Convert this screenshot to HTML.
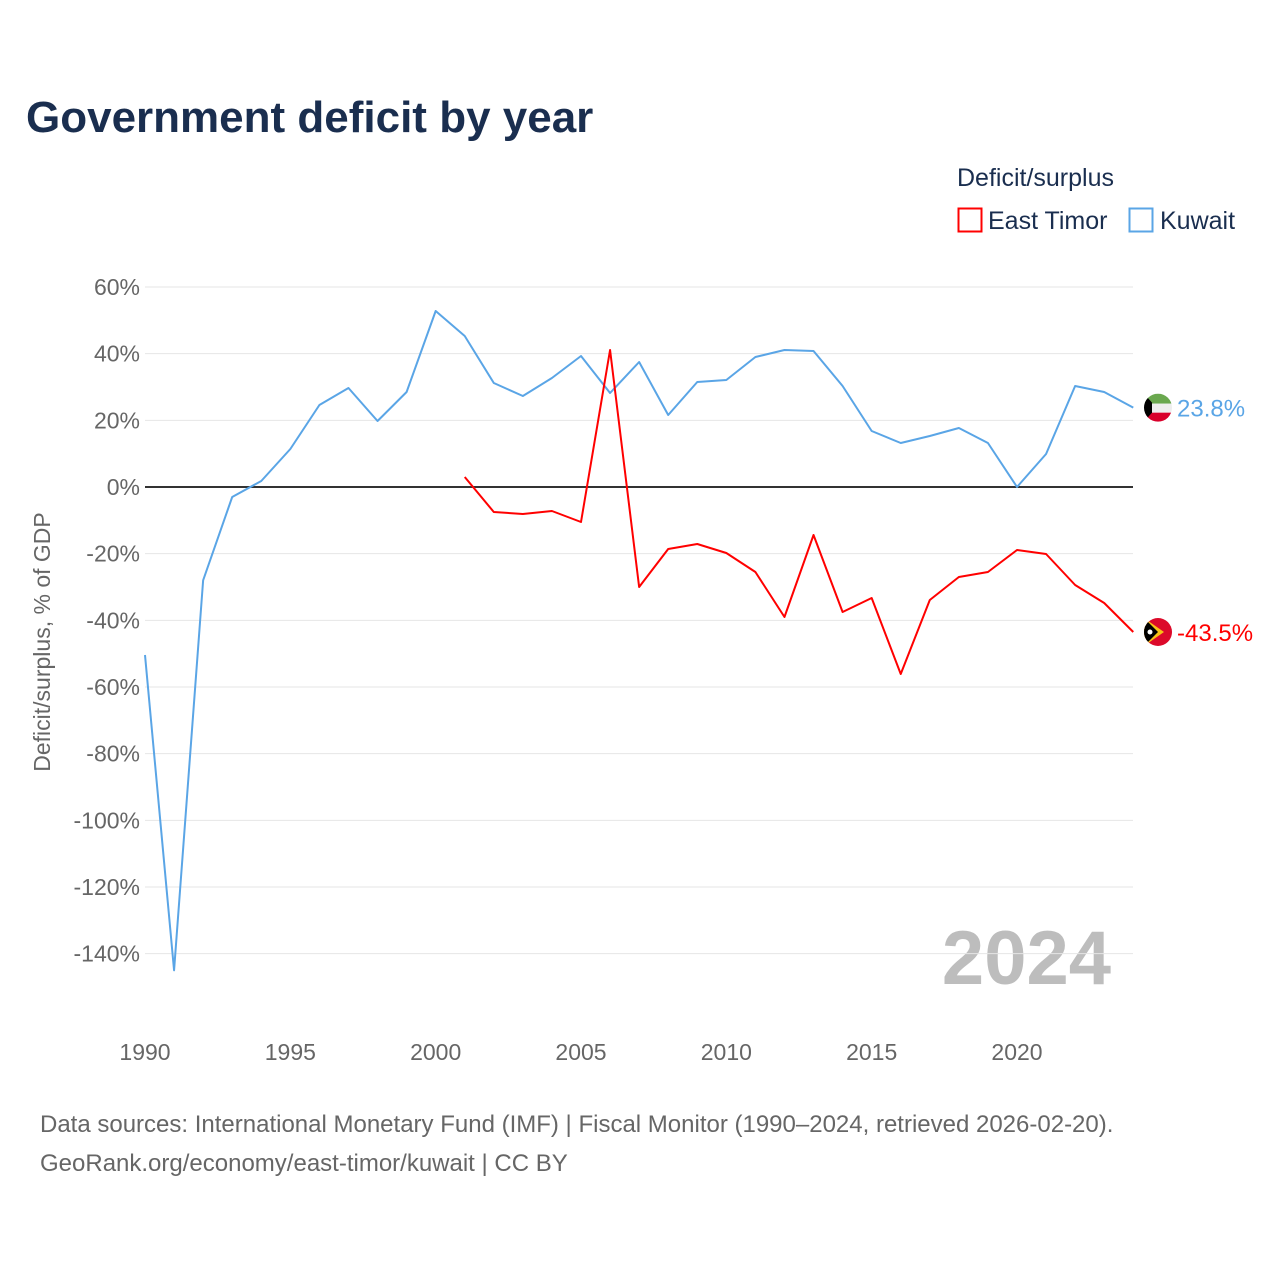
<!DOCTYPE html>
<html><head><meta charset="utf-8"><style>
body{margin:0;background:#fff;font-family:"Liberation Sans",sans-serif;}
svg text{font-family:"Liberation Sans",sans-serif;}
</style></head><body>
<svg id="c" width="1280" height="1280" xmlns="http://www.w3.org/2000/svg">
<rect width="1280" height="1280" fill="#fff"/>
<text x="26" y="132" font-size="44" font-weight="bold" fill="#1a2e4f">Government deficit by year</text>
<text x="957" y="186" font-size="25" fill="#1a2e4f">Deficit/surplus</text>
<g><rect x="958.5" y="208.5" width="23" height="23" fill="none" stroke="#f00" stroke-width="2"/><text x="988" y="229" font-size="25" fill="#1a2e4f">East Timor</text></g>
<g><rect x="1129.5" y="208.5" width="23" height="23" fill="none" stroke="#5aa5e6" stroke-width="2"/><text x="1160" y="229" font-size="25" fill="#1a2e4f">Kuwait</text></g>
<text transform="translate(50,642) rotate(-90)" text-anchor="middle" font-size="23" fill="#666">Deficit/surplus, % of GDP</text>
<text x="1111" y="984" text-anchor="end" font-size="76" font-weight="bold" fill="#bdbdbd">2024</text>
<g id="grid"></g><g id="lines"></g>
<text x="40" y="1132" font-size="24" fill="#666">Data sources: International Monetary Fund (IMF) | Fiscal Monitor (1990–2024, retrieved 2026-02-20).</text>
<text x="40" y="1171" font-size="24" fill="#666">GeoRank.org/economy/east-timor/kuwait | CC BY</text>
</svg>
<script>
const yTicks=[60,40,20,0,-20,-40,-60,-80,-100,-120,-140];
const xTicks=[1990,1995,2000,2005,2010,2015,2020];
const kuwaitYears=[1990,1991,1992,1993,1994,1995,1996,1997,1998,1999,2000,2001,2002,2003,2004,2005,2006,2007,2008,2009,2010,2011,2012,2013,2014,2015,2016,2017,2018,2019,2020,2021,2022,2023,2024];
const kuwait=[-50.4,-145,-28,-3,1.8,11.4,24.6,29.7,19.8,28.5,52.8,45.3,31.2,27.3,32.7,39.3,28.2,37.5,21.6,31.5,32.1,39,41.1,40.8,30.3,16.8,13.2,15.3,17.7,13.2,0,9.9,30.3,28.5,23.8];
const timorYears=[2001,2002,2003,2004,2005,2006,2007,2008,2009,2010,2011,2012,2013,2014,2015,2016,2017,2018,2019,2020,2021,2022,2023,2024];
const timor=[3,-7.5,-8.1,-7.2,-10.5,41.1,-30,-18.6,-17.1,-19.8,-25.5,-39,-14.4,-37.5,-33.3,-56.1,-33.9,-27,-25.5,-18.9,-20.1,-29.4,-34.8,-43.5];
const X=y=>145+(y-1990)*(1017-145)/30;
const Y=v=>487-v*(200/60);
const NS="http://www.w3.org/2000/svg";
function mk(t,a,p){const e=document.createElementNS(NS,t);for(const k in a)e.setAttribute(k,a[k]);p.appendChild(e);return e;}
const g=document.getElementById('grid'),L=document.getElementById('lines');
yTicks.forEach(v=>{
 const l=mk('line',{x1:145,x2:1133,y1:Y(v),y2:Y(v),stroke:v===0?'#333':'#e6e6e6','stroke-width':v===0?2:1},g);
 
 
 const t=mk('text',{x:140,y:Y(v)+8,'text-anchor':'end','font-size':23,fill:'#666'},g);t.textContent=v+'%';
 
 
});
xTicks.forEach(v=>{
 const t=mk('text',{x:X(v),y:1060,'text-anchor':'middle','font-size':23,fill:'#666'},g);t.textContent=v;
 
 
});
function line(yrs,vals,col,name){
 const p=mk('polyline',{points:yrs.map((y,i)=>X(y)+','+Y(vals[i])).join(' '),fill:'none',stroke:col,'stroke-width':2,'stroke-linejoin':'round'},L);
 
 
}
line(kuwaitYears,kuwait,'#5aa5e6','kuwait-line');
line(timorYears,timor,'#f00','east-timor-line');
// end labels + flags
const kx=1158,ky=Y(kuwait[kuwait.length-1]);
const kf=mk('g',{},L);


mk('clipPath',{id:'ck'},kf).appendChild(document.createElementNS(NS,'circle')).setAttribute('r',14);
document.querySelector('#ck circle').setAttribute('cx',kx);document.querySelector('#ck circle').setAttribute('cy',ky);
const kg=mk('g',{'clip-path':'url(#ck)'},kf);
mk('rect',{x:kx-14,y:ky-14,width:28,height:10,fill:'#6aa84f'},kg);
mk('rect',{x:kx-14,y:ky-4,width:28,height:9,fill:'#eee'},kg);
mk('rect',{x:kx-14,y:ky+5,width:28,height:10,fill:'#d9002b'},kg);
mk('polygon',{points:`${kx-14},${ky-14} ${kx-6},${ky-5} ${kx-6},${ky+5} ${kx-14},${ky+14}`,fill:'#000'},kg);
const kt=mk('text',{x:1177,y:ky+9,'font-size':24,fill:'#5aa5e6'},L);kt.textContent=kuwait[kuwait.length-1].toFixed(1)+'%';


const tx=1158,ty=Y(timor[timor.length-1]);
const tf=mk('g',{},L);


const cp=mk('clipPath',{id:'ct'},tf);mk('circle',{cx:tx,cy:ty,r:14},cp);
const tg=mk('g',{'clip-path':'url(#ct)'},tf);
mk('rect',{x:tx-14,y:ty-14,width:28,height:28,fill:'#dc0a2a'},tg);
mk('polygon',{points:`${tx-14},${ty-14} ${tx+6},${ty} ${tx-14},${ty+14}`,fill:'#f7c316'},tg);
mk('polygon',{points:`${tx-14},${ty-14} ${tx},${ty} ${tx-14},${ty+14}`,fill:'#000'},tg);
mk('circle',{cx:tx-8,cy:ty,r:2.5,fill:'#fff'},tg);
const tt=mk('text',{x:1177,y:ty+9,'font-size':24,fill:'#f00'},L);tt.textContent=timor[timor.length-1].toFixed(1)+'%';


</script>
</body></html>
